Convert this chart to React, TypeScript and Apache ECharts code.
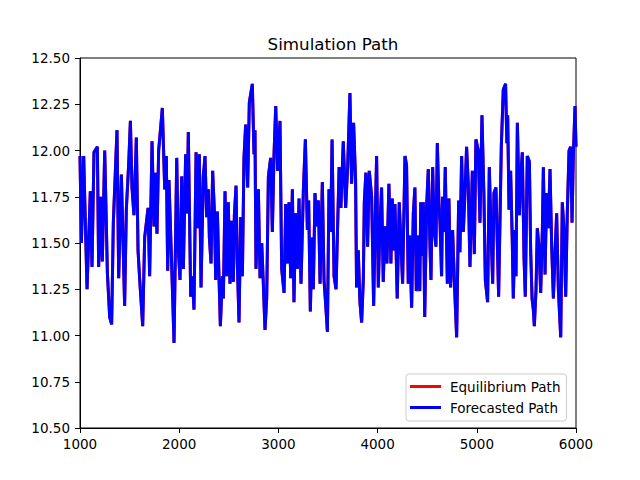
import { useEffect, useRef } from "react";
import * as echarts from "echarts";

// time steps and values (peaks / troughs)
const pathSteps: number[] = [
  1000, 1014, 1037, 1071, 1104, 1121, 1141, 1175, 1188, 1208, 1225, 1249, 1276, 1299, 1319, 1336,
  1373, 1390, 1417, 1450, 1467, 1491, 1508, 1524, 1544, 1568, 1585, 1602, 1632, 1652, 1686, 1702,
  1726, 1746, 1760, 1776, 1793, 1830, 1854, 1870, 1884, 1897, 1931, 1948, 1975, 1991, 2008, 2025,
  2042, 2065, 2079, 2092, 2116, 2133, 2149, 2170, 2183, 2203, 2220, 2243, 2260, 2277, 2294, 2304,
  2321, 2337, 2354, 2368, 2385, 2401, 2415, 2435, 2445, 2462, 2479, 2495, 2512, 2529, 2546, 2556,
  2573, 2586, 2603, 2620, 2637, 2653, 2670, 2690, 2707, 2737, 2754, 2764, 2774, 2798, 2815, 2832,
  2848, 2865, 2882, 2899, 2922, 2939, 2956, 2973, 2993, 3016, 3033, 3057, 3074, 3090, 3107, 3124,
  3141, 3157, 3174, 3191, 3208, 3228, 3252, 3272, 3292, 3305, 3322, 3339, 3352, 3369, 3386, 3403,
  3420, 3443, 3460, 3480, 3494, 3510, 3527, 3541, 3561, 3581, 3612, 3630, 3654, 3678, 3698, 3721,
  3738, 3758, 3778, 3788, 3805, 3822, 3839, 3856, 3866, 3882, 3899, 3916, 3940, 3960, 3980, 3990,
  4007, 4024, 4040, 4057, 4074, 4094, 4114, 4134, 4148, 4165, 4175, 4198, 4218, 4252, 4276, 4292,
  4309, 4323, 4343, 4360, 4376, 4390, 4410, 4425, 4435, 4448, 4461, 4475, 4494, 4511, 4528, 4538,
  4555, 4571, 4588, 4602, 4618, 4629, 4645, 4655, 4669, 4682, 4703, 4719, 4736, 4756, 4776, 4797,
  4817, 4830, 4847, 4864, 4881, 4897, 4914, 4931, 4955, 4975, 4991, 5015, 5032, 5052, 5072, 5086,
  5109, 5126, 5143, 5160, 5173, 5193, 5220, 5247, 5267, 5290, 5303, 5311, 5325, 5341, 5358, 5368,
  5385, 5395, 5409, 5429, 5442, 5459, 5476, 5489, 5509, 5530, 5543, 5557, 5570, 5580, 5597, 5610,
  5627, 5644, 5661, 5671, 5688, 5704, 5721, 5738, 5755, 5772, 5788, 5805, 5822, 5846, 5862, 5879,
  5896, 5913, 5930, 5946, 5960, 5973, 5990, 6000,
];

const pathValues: number[] = [
  11.97, 11.5, 11.97, 11.25, 11.78, 11.37, 11.99, 12.02, 11.37, 11.75, 11.4, 12.0, 11.34, 11.1, 11.06, 11.61,
  12.11, 11.31, 11.87, 11.16, 11.68, 11.93, 12.16, 11.8, 11.65, 12.07, 11.46, 11.3, 11.05, 11.53, 11.69, 11.32,
  12.05, 11.59, 11.88, 11.55, 12.0, 12.23, 11.79, 11.97, 11.35, 11.84, 11.26, 10.96, 11.96, 11.47, 11.3, 11.86,
  11.36, 11.98, 11.66, 12.1, 11.21, 11.32, 11.14, 11.99, 11.58, 11.98, 11.26, 11.86, 11.97, 11.64, 11.79, 11.53,
  11.39, 11.89, 11.68, 11.3, 11.67, 11.32, 11.05, 11.32, 11.2, 11.78, 11.32, 11.72, 11.28, 11.62, 11.29, 11.65,
  11.81, 11.39, 11.07, 11.64, 11.32, 11.96, 12.14, 11.8, 12.26, 12.36, 11.98, 12.11, 11.36, 11.79, 11.31, 11.5,
  11.28, 11.03, 11.2, 11.86, 11.96, 11.56, 11.98, 12.24, 11.89, 12.16, 11.36, 11.23, 11.71, 11.39, 11.72, 11.31,
  11.79, 11.18, 11.66, 11.36, 11.74, 11.28, 11.79, 12.06, 11.57, 11.73, 11.13, 11.53, 11.25, 11.77, 11.59, 11.73,
  11.28, 11.83, 11.3, 11.14, 11.02, 11.79, 11.56, 12.06, 11.32, 11.25, 11.91, 11.69, 12.05, 11.69, 11.91, 12.31,
  11.82, 12.15, 11.84, 11.26, 11.46, 11.18, 11.07, 11.3, 11.72, 11.88, 11.48, 11.89, 11.75, 11.16, 11.72, 11.97,
  11.26, 11.59, 11.8, 11.29, 11.59, 11.39, 11.82, 11.39, 11.74, 11.46, 11.71, 11.2, 11.72, 11.28, 11.97, 11.92,
  11.28, 11.54, 11.15, 11.66, 11.8, 11.24, 11.54, 11.24, 11.72, 11.43, 11.72, 11.1, 11.7, 11.9, 11.48, 11.3,
  11.91, 11.57, 11.48, 12.04, 11.72, 11.61, 11.32, 11.75, 11.56, 11.91, 11.28, 11.74, 11.26, 11.57, 11.26, 10.99,
  11.73, 11.45, 11.97, 11.56, 11.77, 12.02, 11.82, 11.37, 11.89, 11.44, 12.06, 12.0, 11.61, 12.19, 11.75, 11.3,
  11.18, 11.91, 11.57, 11.28, 11.77, 11.8, 11.21, 12.02, 12.33, 12.36, 12.04, 12.19, 11.68, 11.89, 11.5, 11.2,
  11.57, 11.32, 12.15, 11.65, 11.86, 11.99, 11.42, 11.21, 11.97, 11.94, 11.46, 11.2, 11.14, 11.05, 11.25, 11.58,
  11.48, 11.23, 11.57, 11.91, 11.33, 11.77, 11.58, 11.9, 11.48, 11.2, 11.44, 11.66, 11.25, 10.99, 11.72, 11.57,
  11.21, 11.68, 12.0, 12.02, 11.61, 11.97, 12.24, 12.02,
];

const seriesNames = ["Equilibrium Path", "Forecasted Path"];
const seriesColors = ["#ff0000", "#0000ff"];

const font = "DejaVu Sans";

const App = () => {
  const chartRef = useRef<HTMLDivElement>(null);

  useEffect(() => {
    if (!chartRef.current) return;
    const chart = echarts.init(chartRef.current, undefined, { renderer: "svg" });

    const points = pathSteps.map((x, i) => [x, pathValues[i]]);

    const axisCommon = {
      axisLine: { show: true, lineStyle: { color: "#000", width: 1 } },
      axisTick: { show: true, length: 5, lineStyle: { color: "#000", width: 1 } },
      splitLine: { show: false },
    };

    chart.setOption({
      animation: false,
      backgroundColor: "#fff",
      title: {
        text: "Simulation Path",
        left: 328,
        textAlign: "center",
        top: 30,
        textStyle: { fontFamily: font, fontSize: 16.7, fontWeight: "normal", color: "#000" },
      },
      grid: {
        left: 80,
        right: 64,
        top: 58,
        bottom: 52,
        show: true,
        borderColor: "#000",
        borderWidth: 1,
      },
      xAxis: {
        type: "value",
        min: 1000,
        max: 6000,
        interval: 1000,
        ...axisCommon,
        axisLabel: {
          margin: 9,
          color: "#000",
          fontFamily: font,
          fontSize: 13.5,
          formatter: (v: number) => String(v),
        },
      },
      yAxis: {
        type: "value",
        min: 10.5,
        max: 12.5,
        interval: 0.25,
        ...axisCommon,
        axisLabel: {
          margin: 10,
          color: "#000",
          fontFamily: font,
          fontSize: 13.5,
          formatter: (v: number) => v.toFixed(2),
        },
      },
      legend: {
        orient: "vertical",
        left: 406,
        top: 374,
        padding: [4, 6, 5, 4],
        itemGap: 4,
        itemWidth: 31,
        itemHeight: 3,
        icon: "rect",
        borderColor: "#cccccc",
        borderWidth: 1,
        borderRadius: 3,
        backgroundColor: "rgba(255,255,255,0.8)",
        textStyle: { fontFamily: font, fontSize: 13.5, color: "#000", padding: [0, 0, 0, 4], lineHeight: 17 },
        data: seriesNames,
      },
      series: seriesNames.map((name, i) => ({
        name,
        type: "line",
        data: points,
        symbol: "none",
        color: seriesColors[i],
        lineStyle: { color: seriesColors[i], width: 3 },
        z: 2 + i,
      })),
    });

    return () => {
      chart.dispose();
    };
  }, []);

  return (
    <div
      ref={chartRef}
      style={{ position: "fixed", left: 0, top: 0, width: "640px", height: "480px" }}
    />
  );
};

export default App;
